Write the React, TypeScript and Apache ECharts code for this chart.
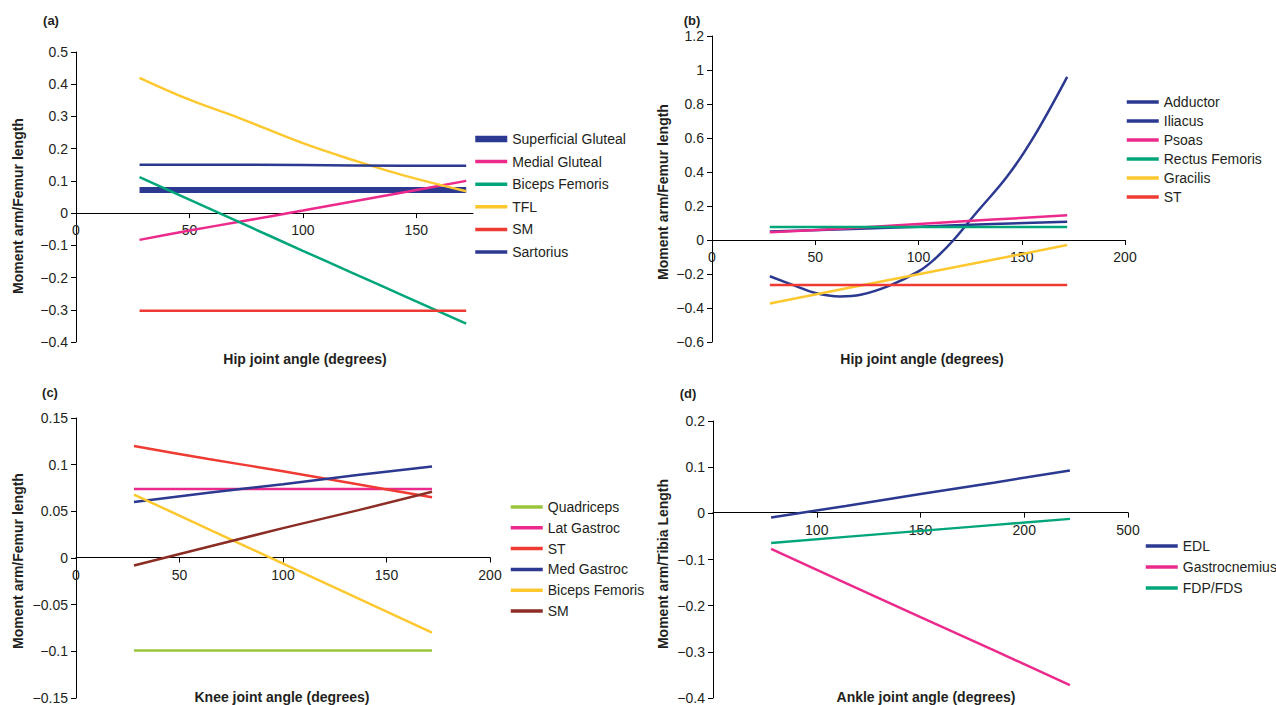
import React, { useEffect, useRef } from "react";
import * as echarts from "echarts";

// ---------- Data ----------
// Panel (a): hip joint angle vs moment arm / femur length
const hipAnglesA = [28, 50, 72, 100, 122, 144, 172];
const aSuperficialGluteal = [0.072, 0.072, 0.072, 0.072, 0.072, 0.072, 0.072];
const aMedialGluteal = [-0.083, -0.054, -0.027, 0.008, 0.036, 0.064, 0.1];
const aBicepsFemoris = [0.112, 0.042, -0.028, -0.117, -0.186, -0.255, -0.343];
const aTFL = [0.42, 0.352, 0.295, 0.217, 0.165, 0.118, 0.068];
const aSM = [-0.303, -0.303, -0.303, -0.303, -0.303, -0.303, -0.303];
const aSartorius = [0.15, 0.15, 0.15, 0.149, 0.148, 0.147, 0.147];

// Panel (b)
const hipAnglesAdductor = [28, 40, 50, 62, 72, 86, 100, 108, 117, 128, 143, 155, 172];
const bAdductor = [-0.213, -0.268, -0.312, -0.332, -0.322, -0.268, -0.185, -0.11, 0.0, 0.16, 0.375, 0.59, 0.96];
const hipAnglesB = [28, 64, 100, 136, 172];
const bIliacus = [0.05, 0.063, 0.078, 0.094, 0.108];
const bPsoas = [0.045, 0.068, 0.094, 0.12, 0.145];
const bRectusFemoris = [0.077, 0.077, 0.077, 0.077, 0.077];
const bGracilis = [-0.373, -0.287, -0.202, -0.116, -0.03];
const bST = [-0.265, -0.265, -0.265, -0.265, -0.265];

// Panel (c): knee
const kneeAngles = [28, 64, 100, 136, 172];
const cQuadriceps = [-0.099, -0.099, -0.099, -0.099, -0.099];
const cLatGastroc = [0.074, 0.074, 0.074, 0.074, 0.074];
const cST = [0.12, 0.106, 0.093, 0.079, 0.065];
const cMedGastroc = [0.06, 0.07, 0.079, 0.089, 0.098];
const cBicepsFemoris = [0.068, 0.031, -0.006, -0.043, -0.08];
const cSM = [-0.008, 0.012, 0.032, 0.051, 0.071];

// Panel (d): ankle
const ankleAngles = [78, 114, 150, 186, 222];
const dEDL = [-0.009, 0.016, 0.042, 0.067, 0.093];
const dGastrocnemius = [-0.077, -0.151, -0.225, -0.298, -0.372];
const dFDP = [-0.064, -0.051, -0.038, -0.025, -0.012];

// Tick labels / axis ranges
const hipTicksA = [0, 50, 100, 150];
const hipTicksB = [0, 50, 100, 150, 200];
const kneeTicks = [0, 50, 100, 150, 200];
const ankleTickValues = [100, 150, 200, 250];
const ankleTickLabels = ["100", "150", "200", "500"];
const yRanges = [
  { min: -0.4, max: 0.5, interval: 0.1 },
  { min: -0.6, max: 1.2, interval: 0.2 },
  { min: -0.15, max: 0.15, interval: 0.05 },
  { min: -0.4, max: 0.2, interval: 0.1 },
];
const xRanges = [
  { min: 0, max: 175 },
  { min: 0, max: 200 },
  { min: 0, max: 200 },
  { min: 50, max: 250 },
];

// ---------- Styles ----------
const NAVY = "#2B3990";
const PINK = "#EC2A8C";
const GREEN = "#00A67A";
const YELLOW = "#FDC82F";
const RED = "#EF3B33";
const LIME = "#9BC53D";
const BROWN = "#8B2D24";
const TEXT = "#231F20";
const FONT = "Arial, 'Liberation Sans', Helvetica, sans-serif";

const zip = (xs: number[], ys: number[]) => xs.map((x, i) => [x, ys[i]]);
const fmtY = (v: number) => {
  const r = Math.round(v * 1000) / 1000;
  return r < 0 ? "\u2212" + String(-r) : String(r);
};

export default function App() {
  const ref = useRef<HTMLDivElement>(null);
  useEffect(() => {
    if (!ref.current) return;
    const chart = echarts.init(ref.current, undefined, { renderer: "svg" });

    const grids = [
      { left: 76, top: 52, width: 397, height: 290 },
      { left: 712, top: 36, width: 413, height: 306 },
      { left: 76, top: 418, width: 414, height: 281 },
      { left: 713, top: 421, width: 415, height: 278 },
    ];

    const tickValues = [hipTicksA, hipTicksB, kneeTicks, ankleTickValues];
    const xAxes = grids.map((g, i) => {
      const yr = yRanges[i];
      const zeroOffset = -((0 - yr.min) / (yr.max - yr.min)) * g.height;
      return {
        type: "value",
        gridIndex: i,
        position: "bottom",
        min: xRanges[i].min,
        max: xRanges[i].max,
        offset: zeroOffset,
        splitLine: { show: false },
        axisLine: { show: true, onZero: false, lineStyle: { color: "#000", width: 1 } },
        axisTick: { show: true, customValues: tickValues[i], length: 5, lineStyle: { color: "#000" } },
        axisLabel: {
          show: true,
          customValues: tickValues[i],
          color: TEXT,
          fontSize: 14,
          fontFamily: FONT,
          margin: 10,
          formatter:
            i === 3
              ? (v: number) => {
                  const k = ankleTickValues.indexOf(v);
                  return k >= 0 ? ankleTickLabels[k] : "";
                }
              : (v: number) => String(v),
        },
      };
    });

    const yAxes = grids.map((g, i) => ({
      type: "value",
      gridIndex: i,
      min: yRanges[i].min,
      max: yRanges[i].max,
      interval: yRanges[i].interval,
      splitLine: { show: false },
      axisLine: { show: true, onZero: false, lineStyle: { color: "#000", width: 1 } },
      axisTick: { show: true, length: 5, lineStyle: { color: "#000" } },
      axisLabel: { color: TEXT, fontSize: 14, fontFamily: FONT, margin: 8, formatter: fmtY },
    }));

    const line = (name: string, idx: number, xs: number[], ys: number[], color: string, width = 2.5, smooth: boolean | number = false) => ({
      name,
      type: "line",
      xAxisIndex: idx,
      yAxisIndex: idx,
      data: zip(xs, ys),
      symbol: "none",
      smooth,
      lineStyle: { color, width },
      itemStyle: { color },
      color,
    });

    const series = [
      line("Superficial Gluteal", 0, hipAnglesA, aSuperficialGluteal, NAVY, 6),
      line("Medial Gluteal", 0, hipAnglesA, aMedialGluteal, PINK, 2.5, 0.3),
      line("Biceps Femoris", 0, hipAnglesA, aBicepsFemoris, GREEN, 2.5, 0.3),
      line("TFL", 0, hipAnglesA, aTFL, YELLOW, 2.5, 0.4),
      line("SM", 0, hipAnglesA, aSM, RED),
      line("Sartorius", 0, hipAnglesA, aSartorius, NAVY),

      line("Adductor", 1, hipAnglesAdductor, bAdductor, NAVY, 2.5, 0.4),
      line("Iliacus", 1, hipAnglesB, bIliacus, NAVY, 2.5, 0.3),
      line("Psoas", 1, hipAnglesB, bPsoas, PINK, 2.5, 0.3),
      line("Rectus Femoris", 1, hipAnglesB, bRectusFemoris, GREEN),
      line("Gracilis", 1, hipAnglesB, bGracilis, YELLOW),
      line("ST", 1, hipAnglesB, bST, RED),

      line("Quadriceps", 2, kneeAngles, cQuadriceps, LIME),
      line("Lat Gastroc", 2, kneeAngles, cLatGastroc, PINK),
      line("ST", 2, kneeAngles, cST, RED, 2.5, 0.3),
      line("Med Gastroc", 2, kneeAngles, cMedGastroc, NAVY),
      line("Biceps Femoris", 2, kneeAngles, cBicepsFemoris, YELLOW),
      line("SM", 2, kneeAngles, cSM, BROWN),

      line("EDL", 3, ankleAngles, dEDL, NAVY),
      line("Gastrocnemius", 3, ankleAngles, dGastrocnemius, PINK),
      line("FDP/FDS", 3, ankleAngles, dFDP, GREEN),
    ];

    const item = (name: string, color: string, width = 3.5) => ({
      name,
      lineStyle: { color, width, opacity: 1 },
      itemStyle: { color, opacity: 0 },
    });

    const legendCommon = {
      orient: "vertical",
      itemWidth: 32,
      itemHeight: 14,
      padding: 0,
      selectedMode: false,
      itemStyle: { opacity: 0 },
      textStyle: { color: TEXT, fontSize: 14, fontFamily: FONT, lineHeight: 14 },
    };
    const legends = [
      {
        ...legendCommon, left: 472, top: 132, itemGap: 8.6,
        data: [
          item("Superficial Gluteal", NAVY, 6.5),
          item("Medial Gluteal", PINK),
          item("Biceps Femoris", GREEN),
          item("TFL", YELLOW),
          item("SM", RED),
          item("Sartorius", NAVY),
        ],
      },
      {
        ...legendCommon, left: 1125, top: 95, itemGap: 5,
        data: [
          item("Adductor", NAVY),
          item("Iliacus", NAVY),
          item("Psoas", PINK),
          item("Rectus Femoris", GREEN),
          item("Gracilis", YELLOW),
          item("ST", RED),
        ],
      },
      {
        ...legendCommon, left: 509, top: 500, itemGap: 6.8,
        data: [
          item("Quadriceps", LIME),
          item("Lat Gastroc", PINK),
          item("ST", RED),
          item("Med Gastroc", NAVY),
          item("Biceps Femoris", YELLOW),
          item("SM", BROWN),
        ],
      },
      {
        ...legendCommon, left: 1144, top: 539, itemGap: 7,
        data: [item("EDL", NAVY), item("Gastrocnemius", PINK), item("FDP/FDS", GREEN)],
      },
    ];

    const txt = (text: string, x: number, y: number, size: number, rotation = 0) => ({
      type: "text",
      x,
      y,
      rotation,
      style: {
        text,
        fill: TEXT,
        font: `bold ${size}px ${FONT}`,
        textAlign: "center",
        textVerticalAlign: "middle",
      },
    });

    const graphics = [
      txt("(a)", 51, 20, 13),
      txt("(b)", 692, 20, 13),
      txt("(c)", 50, 392, 13),
      txt("(d)", 688, 393, 13),
      txt("Hip joint angle (degrees)", 305, 359, 14),
      txt("Hip joint angle (degrees)", 922, 359, 14),
      txt("Knee joint angle (degrees)", 282, 697, 14),
      txt("Ankle joint angle (degrees)", 926, 697, 14),
      txt("Moment arm/Femur length", 18, 206, 14, Math.PI / 2),
      txt("Moment arm/Femur length", 663, 192, 14, Math.PI / 2),
      txt("Moment arm/Femur length", 18, 561, 14, Math.PI / 2),
      txt("Moment arm/Tibia Length", 663, 564, 14, Math.PI / 2),
    ];

    chart.setOption({
      animation: false,
      backgroundColor: "#ffffff",
      grid: grids,
      xAxis: xAxes,
      yAxis: yAxes,
      legend: legends,
      series,
      graphic: graphics,
    } as any);

    return () => chart.dispose();
  }, []);

  return (
    <div
      ref={ref}
      style={{ position: "fixed", left: 0, top: 0, width: 1276, height: 705, background: "#fff" }}
    />
  );
}
